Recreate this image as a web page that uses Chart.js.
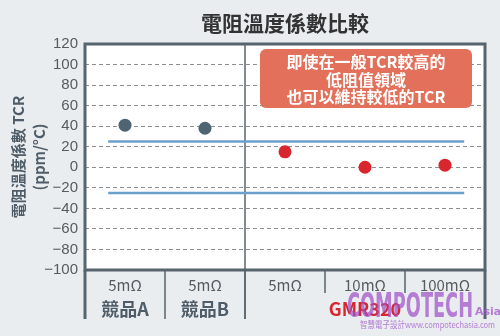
<!DOCTYPE html>
<html><head><meta charset="utf-8">
<script src="https://cdn.jsdelivr.net/npm/chart.js@4"></script>
<style>html,body{margin:0;padding:0;background:#e9edf0;}#wrap{width:500px;height:336px;}</style>
</head><body><div id="wrap"><canvas id="c" width="500" height="336"></canvas></div>
<script>
const titleText = '電阻溫度係數比較';
const yTitleLines = ['電阻溫度係數 TCR', '(ppm/°C)'];
const categories = ['5mΩ', '5mΩ', '5mΩ', '10mΩ', '100mΩ'];
const groups = ['競品A', '競品B', 'GMR320'];
const groupSpans = [[0, 0], [1, 1], [2, 4]];
const tcrValues = [41, 38, 15, 0, 2];
const pointColors = ['#4f6473', '#4f6473', '#d8262e', '#d8262e', '#d8262e'];
const bandX = [-0.21, 4.24];
const bandUpper = [25, 25];
const bandLower = [-25, -25];
const yTicks = [120, 100, 80, 60, 40, 20, 0, -20, -40, -60, -80, -100];
const noteLines = ['即使在一般TCR較高的', '低阻值領域', '也可以維持較低的TCR'];

const FONT = '"Noto Sans CJK TC", "Noto Sans", sans-serif';
const BORDER = '#56646e';

const pts = tcrValues.map((v, i) => ({x: i, y: v}));
const up = bandX.map((x, i) => ({x, y: bandUpper[i]}));
const lo = bandX.map((x, i) => ({x, y: bandLower[i]}));

const deco = {
  id: 'deco',
  beforeDraw(chart) {
    const {ctx, chartArea: a} = chart;
    ctx.save();
    ctx.fillStyle = '#e9edf0';
    ctx.fillRect(0, 0, chart.width, chart.height);
    ctx.fillStyle = '#ffffff';
    ctx.fillRect(a.left, a.top, a.right - a.left, a.bottom - a.top);
    ctx.restore();
  },
  beforeDatasetsDraw(chart) {
    const {ctx, chartArea: a, scales: {x}} = chart;
    ctx.save();
    const dx = (x.getPixelForValue(1) + x.getPixelForValue(2)) / 2;
    ctx.strokeStyle = BORDER; ctx.lineWidth = 1.5;
    ctx.beginPath(); ctx.moveTo(dx, a.top); ctx.lineTo(dx, a.bottom + 49); ctx.stroke();
    ctx.restore();
  },
  afterDraw(chart) {
    const {ctx, chartArea: a, scales: {x}} = chart;
    ctx.save();
    ctx.strokeStyle = BORDER; ctx.lineWidth = 3;
    ctx.strokeRect(a.left, a.top, a.right - a.left, a.bottom - a.top);
    for (let i = 0; i <= categories.length; i++) {
      const px = x.getPixelForValue(i - 0.5);
      const isGroupEdge = groupSpans.some(g => g[0] === i || g[1] + 1 === i);
      const bottom = isGroupEdge ? a.bottom + 49 : a.bottom + 23;
      ctx.lineWidth = (i === 0 || i === categories.length) ? 3 : 1.5;
      ctx.beginPath(); ctx.moveTo(px, a.bottom); ctx.lineTo(px, bottom); ctx.stroke();
    }
    ctx.fillStyle = '#555b60';
    ctx.font = '15px ' + FONT;
    ctx.textAlign = 'center'; ctx.textBaseline = 'middle';
    categories.forEach((c, i) => ctx.fillText(c, x.getPixelForValue(i), a.bottom + 15));
    groups.forEach((g, gi) => {
      const [s, e] = groupSpans[gi];
      const cx = (x.getPixelForValue(s) + x.getPixelForValue(e)) / 2;
      ctx.fillStyle = g === 'GMR320' ? '#d8262e' : '#4f5d68';
      ctx.font = 'bold 18px ' + FONT;
      ctx.fillText(g, cx, a.bottom + 39);
    });
    ctx.fillStyle = '#333333';
    ctx.font = 'bold 21px ' + FONT;
    ctx.fillText(titleText, 285, 23);
    ctx.save();
    ctx.translate(18, 157); ctx.rotate(-Math.PI / 2);
    ctx.fillStyle = '#4f5d68';
    ctx.font = 'bold 15px ' + FONT;
    ctx.fillText(yTitleLines[0], 0, 0);
    ctx.fillText(yTitleLines[1], 0, 21);
    ctx.restore();
    ctx.fillStyle = '#e2705a';
    ctx.beginPath(); ctx.roundRect(260, 49, 212, 59, 6); ctx.fill();
    ctx.fillStyle = '#ffffff';
    ctx.font = 'bold 16px ' + FONT;
    noteLines.forEach((t, i) => ctx.fillText(t, 366, 62 + i * 17.5));
    // watermark
    ctx.fillStyle = 'rgba(160,80,200,0.72)';
    ctx.textBaseline = 'alphabetic';
    ctx.textAlign = 'left';
    ctx.save();
    ctx.translate(347, 317);
    const w = (ctx.font = 'bold 34px "DejaVu Sans", sans-serif', ctx.measureText('COMPOTECH').width);
    ctx.scale(126 / w, 1);
    ctx.fillText('COMPOTECH', 0, 0);
    ctx.restore();
    ctx.font = 'bold 11px "DejaVu Sans", sans-serif';
    ctx.fillText('Asia', 475, 315);
    ctx.save();
    ctx.translate(360, 328);
    ctx.font = '9px ' + FONT;
    const w2 = ctx.measureText('智慧電子設計www.compotechasia.com').width;
    ctx.scale(135 / w2, 1);
    ctx.fillText('智慧電子設計www.compotechasia.com', 0, 0);
    ctx.restore();
    ctx.restore();
  }
};

new Chart(document.getElementById('c'), {
  type: 'scatter',
  data: {
    datasets: [
      {type: 'line', data: up, borderColor: '#6b9fcc', borderWidth: 2.5, pointRadius: 0, fill: false},
      {type: 'line', data: lo, borderColor: '#6b9fcc', borderWidth: 2.5, pointRadius: 0, fill: false},
      {data: pts, pointRadius: 6.5, pointBackgroundColor: pointColors, pointBorderColor: pointColors, pointBorderWidth: 0}
    ]
  },
  options: {
    responsive: false, animation: false, devicePixelRatio: 1,
    layout: {padding: {left: 0, top: 44, right: 15, bottom: 66}},
    plugins: {legend: {display: false}, tooltip: {enabled: false}, title: {display: false}},
    scales: {
      x: {type: 'linear', min: -0.5, max: 4.5, display: false},
      y: {
        min: -100, max: 120,
        afterFit(s) { s.width = 85; },
        afterBuildTicks(s) { s.ticks = yTicks.map(v => ({value: v})); },
        border: {display: false, dash: [4, 3]},
        grid: {color: '#8a8f94', lineWidth: 1, drawTicks: false},
        ticks: {
          autoSkip: false,
          color: '#555b60', font: {size: 15, family: '"Liberation Sans", Arial, sans-serif'}, padding: 7,
          callback: v => (v < 0 ? '\u2212' + Math.abs(v) : String(v))
        }
      }
    }
  },
  plugins: [deco]
});
</script></body></html>
